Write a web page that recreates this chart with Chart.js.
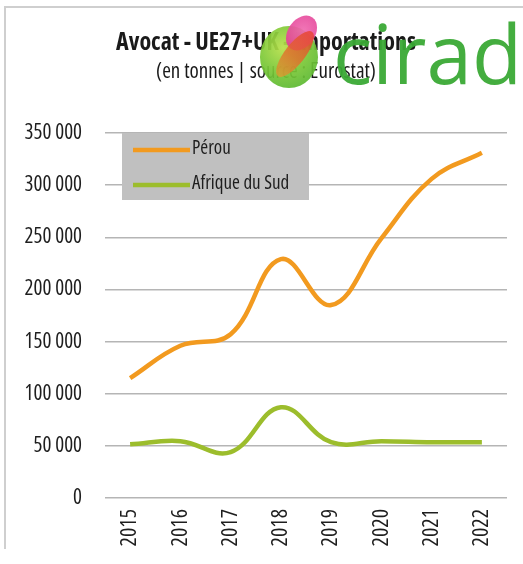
<!DOCTYPE html>
<html>
<head>
<meta charset="utf-8">
<script src="https://cdn.jsdelivr.net/npm/chart.js@4/dist/chart.umd.min.js"></script>
<style>
  html, body { margin: 0; padding: 0; background: #fff; }
  #wrap { position: relative; width: 523px; height: 564px; overflow: hidden; background: #fff; }
  #frame { position: absolute; left: 4px; top: 6px; width: 530px; height: 541px;
           border-top: 2px solid #cfcfcf; border-left: 2px solid #cfcfcf; }
  canvas { position: absolute; left: 0; top: 0; }
  #logo { position: absolute; left: 0; top: 0; width: 523px; height: 100px; pointer-events: none; }
  .disc { position: absolute; border-radius: 50%; }
  #cirad { position: absolute; left: 333px; top: -1px; font-family: "Open Sans", sans-serif;
           font-size: 82px; color: #3aa935; line-height: 1.3; opacity: 0.95; }
</style>
</head>
<body>
<div id="wrap">
  <div id="frame"></div>
  <canvas id="c" width="523" height="564"></canvas>
  <div id="logo">
    <div class="disc" style="left:260px;top:26px;width:58px;height:62px;background:radial-gradient(circle at 40% 35%, #b8e04a 0%, #7cc838 45%, #4ab030 100%);opacity:0.93;"></div>
    <div class="disc" style="left:288px;top:14px;width:27px;height:38px;transform:rotate(35deg);background:radial-gradient(circle at 50% 40%, #f06ab0 0%, #e0358f 100%);opacity:0.92;"></div>
    <div class="disc" style="left:285px;top:26px;width:20px;height:56px;transform:rotate(38deg);background:linear-gradient(180deg, #e8402e 0%, #e26a2a 55%, #d9a030 100%);opacity:0.8;"></div>
    <div id="cirad">cirad</div>
  </div>
</div>
<script>
const categories = ["2015", "2016", "2017", "2018", "2019", "2020", "2021", "2022"];
const perou = [115000, 146000, 157000, 229000, 185000, 249000, 306000, 331000];
const afriqueDuSud = [51500, 54500, 44000, 87000, 53500, 54500, 53500, 53500];
const seriesNames = ["Pérou", "Afrique du Sud"];
const yTicks = [0, 50000, 100000, 150000, 200000, 250000, 300000, 350000];
const titleText = "Avocat - UE27+UK - Importations";
const subtitleText = "(en tonnes | source : Eurostat)";

const FONT = '"Open Sans", sans-serif';
const ORANGE = '#f29a1f';
const GREEN = '#9cbd2c';

function fmt(v) {
  return String(v).replace(/\B(?=(\d{3})+(?!\d))/g, ' ');
}

const legendBox = {
  id: 'legendBox',
  afterDatasetsDraw(chart) {
    const ctx = chart.ctx;
    const area = chart.chartArea;
    const x0 = area.left + 17, y0 = area.top;
    ctx.save();
    ctx.fillStyle = '#c0c0c0';
    ctx.fillRect(x0, y0, 187, 67);
    const items = chart.data.datasets;
    items.forEach((ds, i) => {
      const y = y0 + 17 + i * 35;
      ctx.strokeStyle = ds.borderColor;
      ctx.lineWidth = 4.5;
      ctx.beginPath();
      ctx.moveTo(x0 + 11, y);
      ctx.lineTo(x0 + 68, y);
      ctx.stroke();
      ctx.fillStyle = '#1e1e1e';
      ctx.font = 'condensed 19px ' + FONT;
      ctx.textBaseline = 'middle';
      ctx.textAlign = 'left';
      ctx.fillText(ds.label, x0 + 70, y - 1);
    });
    ctx.restore();
  }
};

new Chart(document.getElementById('c'), {
  type: 'line',
  data: {
    labels: categories,
    datasets: [
      { label: seriesNames[0], data: perou, borderColor: ORANGE, backgroundColor: ORANGE,
        borderWidth: 4.5, pointRadius: 0, tension: 0.4, fill: false },
      { label: seriesNames[1], data: afriqueDuSud, borderColor: GREEN, backgroundColor: GREEN,
        borderWidth: 4.5, pointRadius: 0, tension: 0.4, fill: false }
    ]
  },
  options: {
    responsive: false,
    animation: false,
    devicePixelRatio: 1,
    layout: { padding: { left: 25, right: 16, top: 0, bottom: 0 } },
    plugins: {
      legend: { display: false },
      tooltip: { enabled: false },
      title: {
        display: true, text: titleText, color: '#1a1a1a',
        font: { family: FONT, size: 24, weight: 'bold condensed', lineHeight: 1.2 },
        padding: { top: 29, bottom: 0 }
      },
      subtitle: {
        display: true, text: subtitleText, color: '#1a1a1a',
        font: { family: FONT, size: 21, weight: 'condensed', lineHeight: 1.2 },
        padding: { top: 2, bottom: 48 }
      }
    },
    scales: {
      x: {
        type: 'category',
        offset: true,
        grid: { display: false, drawTicks: false },
        border: { display: false },
        ticks: {
          color: '#1e1e1e', font: { family: FONT, size: 22, weight: 'condensed' },
          minRotation: 90, maxRotation: 90, padding: 11, autoSkip: false
        },
        afterFit(scale) { scale.height = 66; }
      },
      y: {
        min: 0, max: 350000,
        afterBuildTicks(scale) { scale.ticks = yTicks.map(v => ({ value: v })); },
        grid: { color: '#b5b5b5', lineWidth: 1.5, drawTicks: false },
        border: { display: false },
        ticks: {
          color: '#1e1e1e', font: { family: FONT, size: 21, weight: 'condensed' }, padding: 23,
          callback: (v) => fmt(v)
        },
        afterFit(scale) { scale.width = 80; }
      }
    }
  },
  plugins: [legendBox]
});
</script>
</body>
</html>
